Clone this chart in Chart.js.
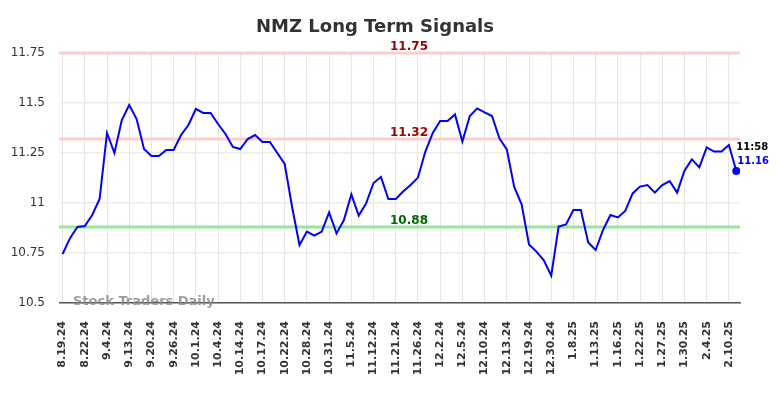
<!DOCTYPE html>
<html>
<head>
<meta charset="utf-8">
<script src="https://cdn.jsdelivr.net/npm/chart.js@4"></script>
<style>
    html, body { margin: 0; padding: 0; background: #fff; }
    #wrap { width: 784px; height: 398px; }
</style>
</head>
<body>
<div id="wrap"><canvas id="chart" width="784" height="398"></canvas></div>
<script>
// ── Data ─────────────────────────────────────────────────────────────────────
// one tick label every third point
const tickLabels = [
    '8.19.24', '8.22.24', '9.4.24', '9.13.24', '9.20.24', '9.26.24', '10.1.24', '10.4.24',
    '10.14.24', '10.17.24', '10.22.24', '10.28.24', '10.31.24', '11.5.24', '11.12.24', '11.21.24',
    '11.26.24', '12.2.24', '12.5.24', '12.10.24', '12.13.24', '12.19.24', '12.30.24', '1.8.25',
    '1.13.25', '1.16.25', '1.22.25', '1.27.25', '1.30.25', '2.4.25', '2.10.25'
];

const prices = [
    10.745, 10.824, 10.88, 10.885, 10.94, 11.02, 11.35, 11.25, 11.415, 11.49,
    11.42, 11.27, 11.235, 11.235, 11.265, 11.265, 11.34, 11.39, 11.47, 11.45,
    11.45, 11.395, 11.345, 11.28, 11.27, 11.32, 11.34, 11.305, 11.305, 11.25,
    11.195, 10.98, 10.79, 10.857, 10.837, 10.857, 10.953, 10.848, 10.915, 11.043,
    10.937, 10.998, 11.10, 11.13, 11.02, 11.02, 11.057, 11.09, 11.127, 11.257,
    11.35, 11.41, 11.41, 11.443, 11.307, 11.435, 11.473, 11.453, 11.435, 11.323,
    11.268, 11.08, 10.993, 10.793, 10.757, 10.713, 10.637, 10.882, 10.893, 10.965,
    10.965, 10.803, 10.765, 10.865, 10.94, 10.928, 10.96, 11.048, 11.082, 11.09,
    11.052, 11.09, 11.11, 11.052, 11.162, 11.218, 11.178, 11.278, 11.257, 11.257,
    11.29, 11.16
];

const signalLevels = [11.75, 11.32, 10.88];
const signalColors = ['#ffcccc', '#ffcccc', '#99e699'];
const signalTextColors = ['#990000', '#990000', '#006600'];

const lastTime = '11:58';
const yTicks = [10.5, 10.75, 11, 11.25, 11.5, 11.75];

const TICK_STEP = 3;
const FONT = '"DejaVu Sans", sans-serif';
const lastIdx = prices.length - 1;

// ── Overlay plugin: signal lines, labels, title, watermark ───────────────────
const overlayPlugin = {
    id: 'overlay',
    beforeDatasetsDraw(chart) {
        const { ctx, chartArea, scales } = chart;
        ctx.save();
        ctx.lineWidth = 3;
        signalLevels.forEach((lvl, i) => {
            const y = scales.y.getPixelForValue(lvl);
            ctx.strokeStyle = signalColors[i];
            ctx.beginPath();
            ctx.moveTo(chartArea.left - 1, y);
            ctx.lineTo(chartArea.right, y);
            ctx.stroke();
        });
        ctx.restore();
    },
    afterDatasetsDraw(chart) {
        const { ctx, chartArea, scales } = chart;
        ctx.save();

        // level labels
        ctx.font = 'bold 12px ' + FONT;
        ctx.textAlign = 'center';
        ctx.textBaseline = 'alphabetic';
        signalLevels.forEach((lvl, i) => {
            const y = scales.y.getPixelForValue(lvl);
            ctx.fillStyle = signalTextColors[i];
            ctx.fillText(lvl.toFixed(2), 409, y - 3.5);
        });

        // title
        ctx.font = 'bold 18px ' + FONT;
        ctx.fillStyle = '#333333';
        ctx.fillText('NMZ Long Term Signals', 375, 32);

        // watermark
        ctx.font = 'bold 13px ' + FONT;
        ctx.textAlign = 'left';
        ctx.textBaseline = 'middle';
        ctx.fillStyle = 'rgba(140,140,140,0.85)';
        ctx.fillText('Stock Traders Daily', 73, chartArea.bottom - 1);

        // last value labels
        const px = scales.x.getPixelForValue(lastIdx);
        const py = scales.y.getPixelForValue(prices[lastIdx]);
        ctx.font = 'bold 10px ' + FONT;
        ctx.fillStyle = '#000000';
        ctx.fillText(lastTime, px, py - 24);
        ctx.fillStyle = '#0000ff';
        ctx.fillText(prices[lastIdx].toFixed(2), px + 1, py - 10);

        ctx.restore();
    }
};

// ── Chart ────────────────────────────────────────────────────────────────────
const ctx = document.getElementById('chart').getContext('2d');
new Chart(ctx, {
    type: 'line',
    data: {
        datasets: [{
            data: prices.map((v, i) => ({ x: i, y: v })),
            borderColor: '#0000ff',
            borderWidth: 2,
            tension: 0,
            fill: false,
            pointRadius: (c) => (c.dataIndex === lastIdx ? 4 : 0),
            pointBackgroundColor: '#0000ff',
            pointBorderWidth: 0
        }]
    },
    options: {
        responsive: false,
        animation: false,
        devicePixelRatio: 1,
        layout: { padding: { top: 53, right: 44, left: 0, bottom: 0 } },
        plugins: {
            legend: { display: false },
            title: { display: false },
            tooltip: { enabled: false }
        },
        scales: {
            x: {
                type: 'linear',
                min: -0.35,
                max: 91.5,
                afterBuildTicks(scale) {
                    scale.ticks = tickLabels.map((_, i) => ({ value: i * TICK_STEP }));
                },
                afterFit(scale) { scale.height = 95; },
                grid: { color: '#e6e6e6', lineWidth: 1, drawTicks: false },
                border: { display: true, color: '#555555', width: 1.5 },
                ticks: {
                    autoSkip: false,
                    minRotation: 90,
                    maxRotation: 90,
                    padding: 18,
                    color: '#333333',
                    font: { family: FONT, size: 11, weight: 'bold' },
                    callback: (v) => tickLabels[Math.round(v / TICK_STEP)] || ''
                }
            },
            y: {
                min: 10.5,
                max: 11.75,
                afterBuildTicks(scale) {
                    scale.ticks = yTicks.map(v => ({ value: v }));
                },
                afterFit(scale) { scale.width = 60; },
                grid: { color: '#ebebeb', lineWidth: 1.5, drawTicks: false },
                border: { display: false },
                ticks: {
                    padding: 15,
                    color: '#333333',
                    font: { family: FONT, size: 12 },
                    callback: (v) => String(+v.toFixed(2))
                }
            }
        }
    },
    plugins: [overlayPlugin]
});
</script>
</body>
</html>
